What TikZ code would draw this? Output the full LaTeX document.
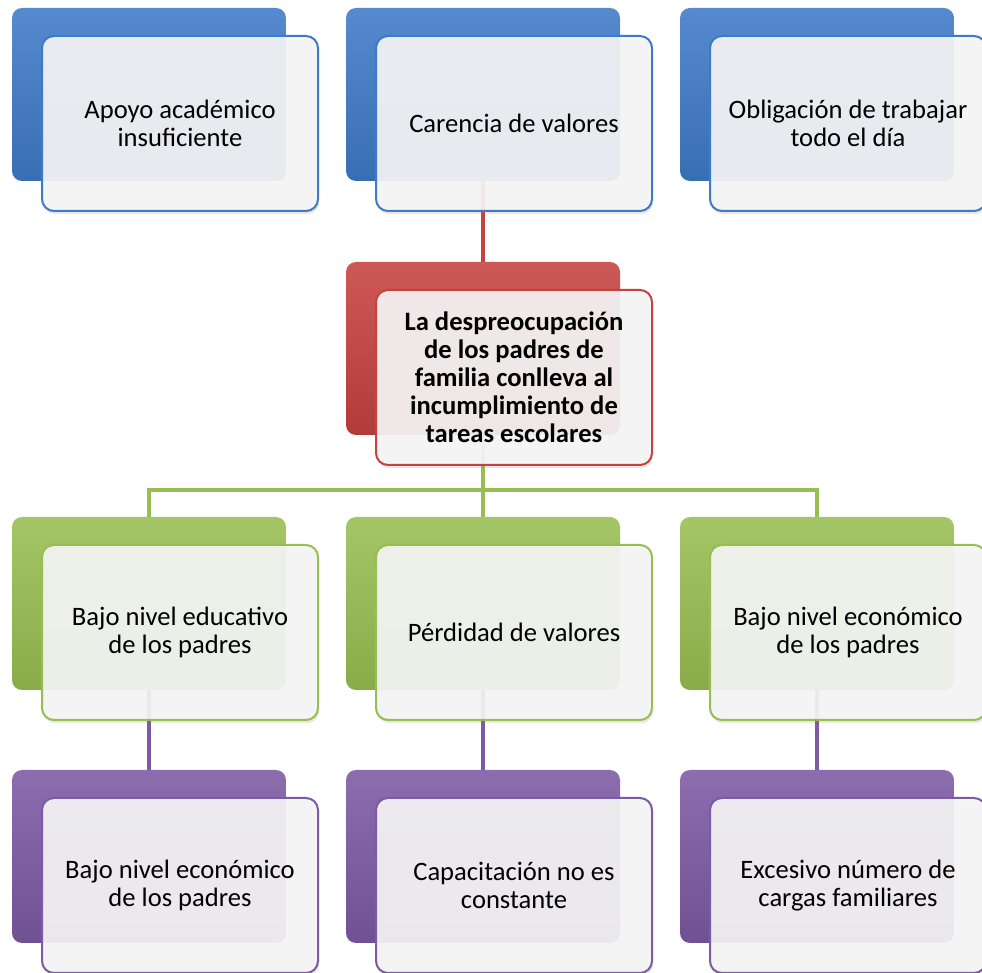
\documentclass[tikz,border=0pt]{standalone}
\usepackage{fontspec}
\setmainfont{Carlito}
\usetikzlibrary{backgrounds,shadows}
\definecolor{boxblue}{RGB}{62,122,200}
\definecolor{boxred}{RGB}{198,66,64}
\definecolor{boxgreen}{RGB}{152,190,82}
\definecolor{boxpurple}{RGB}{124,90,164}
\tikzset{
  backbox/.style={rounded corners=5pt, minimum width=137pt, minimum height=86.5pt,
    inner sep=0pt, outer sep=0pt, anchor=north west,
    top color=#1!88!white, middle color=#1, bottom color=#1!90!black},
  frontbox/.style={rounded corners=6pt, minimum width=138pt, minimum height=87.5pt,
    inner sep=0pt, outer sep=0pt, anchor=north west, xshift=15pt, yshift=-14pt,
    draw=#1, line width=1pt, fill=white!96!black, fill opacity=0.92, text opacity=1,
    drop shadow={opacity=0.18, shadow xshift=0.6pt, shadow yshift=-1.6pt},
    align=center, font=\fontsize{13.3pt}{14pt}\selectfont},
  link/.style={draw=#1, line width=2pt}
}
\newcommand{\stackbox}[5]{%
  \node[backbox=#2] (#1-back) at (#3,#4) {};
  \node[frontbox=#2] (#1) at (#1-back.north west) {#5};
}

\begin{document}
\begin{tikzpicture}[x=0.5pt,y=-0.5pt]
  \useasboundingbox (0,0) rectangle (982,973);
  \stackbox{apoyo}{boxblue}{12}{8}{Apoyo académico\\insuficiente}
  \stackbox{carencia}{boxblue}{346}{8}{Carencia de valores}
  \stackbox{obligacion}{boxblue}{680}{8}{Obligación de trabajar\\todo el día}
  \stackbox{despreocupacion}{boxred}{346}{262}{\bfseries La despreocupación\\\bfseries de los padres de\\\bfseries familia conlleva al\\\bfseries incumplimiento de\\\bfseries tareas escolares}
  \stackbox{educativo}{boxgreen}{12}{517}{Bajo nivel educativo\\de los padres}
  \stackbox{perdida}{boxgreen}{346}{517}{Pérdidad de valores}
  \stackbox{economico}{boxgreen}{680}{517}{Bajo nivel económico\\de los padres}
  \stackbox{econpadres}{boxpurple}{12}{770}{Bajo nivel económico\\de los padres}
  \stackbox{capacitacion}{boxpurple}{346}{770}{Capacitación no es\\constante}
  \stackbox{cargas}{boxpurple}{680}{770}{Excesivo número de\\cargas familiares}
  \begin{scope}[on background layer]
    \coordinate (bus) at (483.5,490);
    \draw[link=boxred] (carencia-back.south) -- (despreocupacion-back.north);
    \draw[link=boxgreen] (despreocupacion-back.south) -- (perdida-back.north);
    \draw[link=boxgreen] (educativo-back.north) |- (bus) -| (economico-back.north);
    \draw[link=boxpurple] (educativo-back.south) -- (econpadres-back.north);
    \draw[link=boxpurple] (perdida-back.south) -- (capacitacion-back.north);
    \draw[link=boxpurple] (economico-back.south) -- (cargas-back.north);
  \end{scope}
\end{tikzpicture}
\end{document}
